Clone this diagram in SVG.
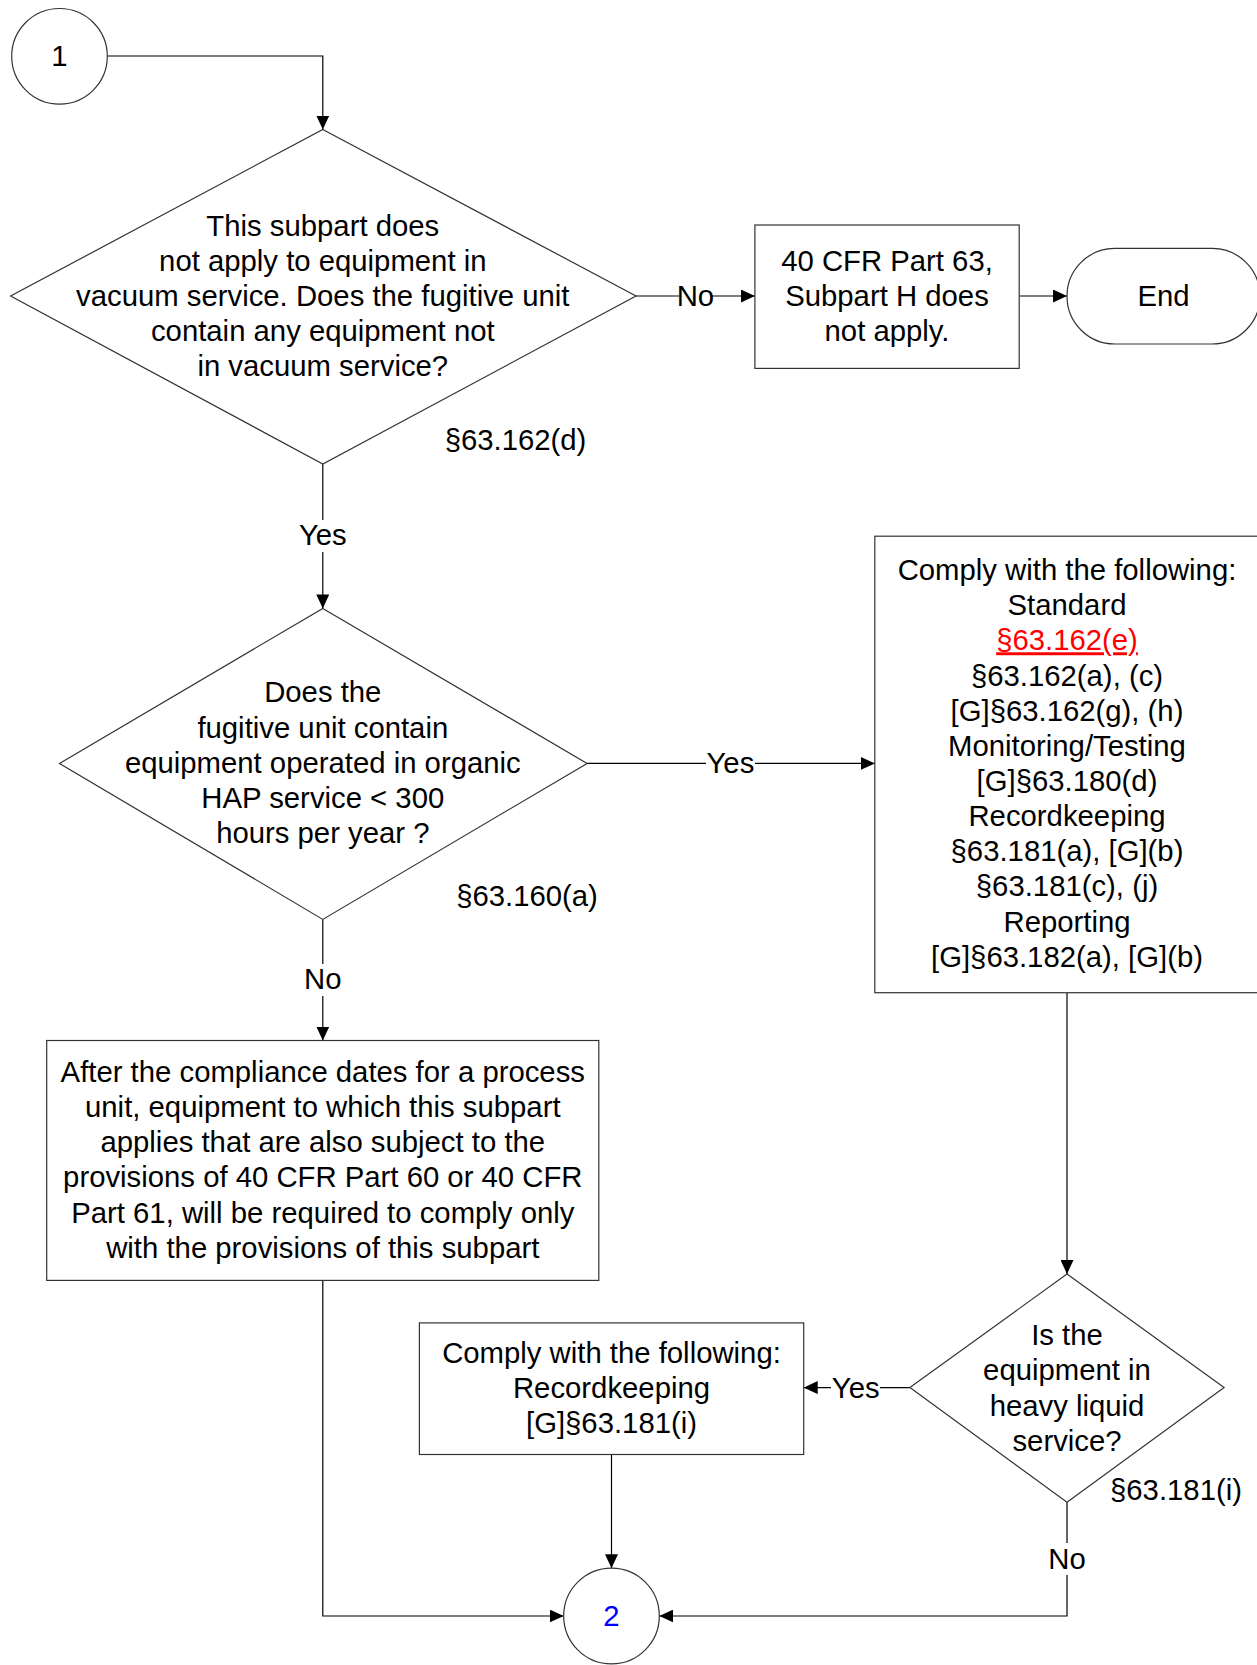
<svg xmlns="http://www.w3.org/2000/svg" width="1257" height="1665" viewBox="0 0 1257 1665">
<style>
.shape{fill:#fff;stroke:#333;stroke-width:1.2}
.line{fill:none;stroke:#000;stroke-width:1.2}
text{font-family:"Liberation Sans",Arial,sans-serif;font-size:29.3px;fill:#000;text-anchor:middle}
.lbl{fill:#fff;stroke:none}
</style>
<defs>
<marker id="arr" viewBox="0 0 14 13" refX="14" refY="6.5" markerWidth="14" markerHeight="13" markerUnits="userSpaceOnUse" orient="auto">
<path d="M0,0 L14,6.5 L0,13 z" fill="#000"/>
</marker>
</defs>
<g id="connectors">
<path class="line" d="M107,56 H322.8 V129.5" marker-end="url(#arr)"/>
<path class="line" d="M636,296 H754.9" marker-end="url(#arr)"/>
<path class="line" d="M1019.2,296 H1067" marker-end="url(#arr)"/>
<path class="line" d="M322.8,464 V608.4" marker-end="url(#arr)"/>
<path class="line" d="M587.1,763.4 H874.8" marker-end="url(#arr)"/>
<path class="line" d="M322.8,919.4 V1040.5" marker-end="url(#arr)"/>
<path class="line" d="M1067,992.7 V1274" marker-end="url(#arr)"/>
<path class="line" d="M909.9,1387.6 H803.7" marker-end="url(#arr)"/>
<path class="line" d="M611.5,1454.5 V1568.2" marker-end="url(#arr)"/>
<path class="line" d="M1067,1502.3 V1616 H659.3" marker-end="url(#arr)"/>
<path class="line" d="M322.8,1280.4 V1616 H563.7" marker-end="url(#arr)"/>
<rect class="lbl" x="679" y="283" width="33" height="26"/>
<text x="695.4" y="306">No</text>
<rect class="lbl" x="298" y="520" width="50" height="32"/>
<text x="322.8" y="545">Yes</text>
<rect class="lbl" x="706" y="750" width="49" height="26"/>
<text x="730.4" y="773.4">Yes</text>
<rect class="lbl" x="304" y="964" width="38" height="32"/>
<text x="322.8" y="989">No</text>
<rect class="lbl" x="831" y="1374" width="49" height="26"/>
<text x="855.7" y="1397.6">Yes</text>
<rect class="lbl" x="1048" y="1543" width="38" height="32"/>
<text x="1067" y="1568.6">No</text>
</g>
<g id="start1">
<circle class="shape" cx="59.5" cy="56.3" r="47.8"/>
<text x="59.5" y="66.3">1</text>
</g>
<g id="decision1">
<polygon class="shape" points="322.8,129.5 636,296 322.8,464 10.6,296"/>
<text x="322.8" y="235.6">This subpart does</text>
<text x="322.8" y="270.8">not apply to equipment in</text>
<text x="322.8" y="306">vacuum service. Does the fugitive unit</text>
<text x="322.8" y="341.2">contain any equipment not</text>
<text x="322.8" y="376.4">in vacuum service?</text>
<text x="515.5" y="450">§63.162(d)</text>
</g>
<g id="notapply">
<rect class="shape" x="754.9" y="225" width="264.3" height="143.4"/>
<text x="887" y="270.8">40 CFR Part 63,</text>
<text x="887" y="306">Subpart H does</text>
<text x="887" y="341.2">not apply.</text>
</g>
<g id="end">
<rect class="shape" x="1067" y="248.4" width="193" height="95.6" rx="47.8" ry="47.8"/>
<text x="1163.6" y="306">End</text>
</g>
<g id="decision2">
<polygon class="shape" points="322.8,608.4 587.1,763.4 322.8,919.4 59.5,763.4"/>
<text x="322.8" y="702.2">Does the</text>
<text x="322.8" y="737.8">fugitive unit contain</text>
<text x="322.8" y="773.4">equipment operated in organic</text>
<text x="322.8" y="808.4">HAP service &lt; 300</text>
<text x="322.8" y="843.4">hours per year ?</text>
<text x="527" y="906">§63.160(a)</text>
</g>
<g id="comply1">
<rect class="shape" x="874.8" y="536.2" width="384.2" height="456.5"/>
<text x="1067" y="580.1">Comply with the following:</text>
<text x="1067" y="615.2">Standard</text>
<text x="1067" y="650.3" style="fill:#f00;text-decoration:underline">§63.162(e)</text>
<text x="1067" y="685.5">§63.162(a), (c)</text>
<text x="1067" y="720.6">[G]§63.162(g), (h)</text>
<text x="1067" y="755.8">Monitoring/Testing</text>
<text x="1067" y="790.9">[G]§63.180(d)</text>
<text x="1067" y="826">Recordkeeping</text>
<text x="1067" y="861.2">§63.181(a), [G](b)</text>
<text x="1067" y="896.3">§63.181(c), (j)</text>
<text x="1067" y="931.5">Reporting</text>
<text x="1067" y="966.6">[G]§63.182(a), [G](b)</text>
</g>
<g id="after">
<rect class="shape" x="46.7" y="1040.5" width="552.1" height="239.9"/>
<text x="322.8" y="1082.3">After the compliance dates for a process</text>
<text x="322.8" y="1117.4">unit, equipment to which this subpart</text>
<text x="322.8" y="1152.4">applies that are also subject to the</text>
<text x="322.8" y="1187.4">provisions of 40 CFR Part 60 or 40 CFR</text>
<text x="322.8" y="1222.5">Part 61, will be required to comply only</text>
<text x="322.8" y="1257.5">with the provisions of this subpart</text>
</g>
<g id="decision3">
<polygon class="shape" points="1067,1274 1224.1,1387.6 1067,1502.3 909.9,1387.6"/>
<text x="1067" y="1344.6">Is the</text>
<text x="1067" y="1379.6">equipment in</text>
<text x="1067" y="1415.7">heavy liquid</text>
<text x="1067" y="1450.7">service?</text>
<text x="1176" y="1499.6">§63.181(i)</text>
</g>
<g id="comply2">
<rect class="shape" x="419.4" y="1322.9" width="384.3" height="131.6"/>
<text x="611.5" y="1362.6">Comply with the following:</text>
<text x="611.5" y="1397.6">Recordkeeping</text>
<text x="611.5" y="1432.7">[G]§63.181(i)</text>
</g>
<g id="start2">
<circle class="shape" cx="611.5" cy="1616" r="47.8"/>
<text x="611.5" y="1626" style="fill:#00f">2</text>
</g>
</svg>
